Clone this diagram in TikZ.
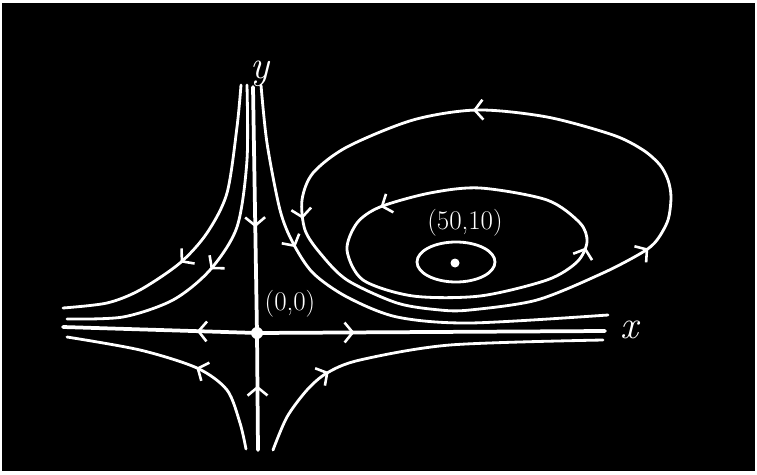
\documentclass[tikz,border=0pt]{standalone}
\usepackage{tikz}
\usetikzlibrary{arrows.meta, decorations.markings}

\begin{document}
\begin{tikzpicture}[x=0.3cm, y=0.3cm,
    flow/.style={white, line width=2.4pt, line cap=round, line join=round},
    axisline/.style={flow, line width=3.2pt},
    tipat/.style={postaction={decorate, decoration={markings,
        mark=at position #1 with {\arrow[white, line width=2.2pt]{Straight Barb[length=7pt, width=17pt]}}}}},
    lbl/.style={white, inner sep=0pt, font=\fontsize{23}{23}\selectfont}]
    % Background
    \fill[white] (-25.7,-14.1) rectangle (50.0,33.3);
    \fill[black] (-25.5,-13.8) rectangle (49.8,33.0);

    % Axes
    \coordinate (O) at (0,0);
    \coordinate (yTop) at (-0.4,24.6);
    \coordinate (yBot) at (0.1,-11.7);
    \coordinate (xLeft) at (-19.4,0.6);
    \coordinate (xRight) at (34.8,0.2);
    \draw[axisline, tipat=0.57] (yTop) -- (O);
    \draw[axisline, tipat=0.55] (yBot) -- (O);
    \draw[axisline, tipat=0.31] (O) -- (xLeft);
    \draw[axisline, tipat=0.28] (O) -- (xRight);
    \node[white, font=\fontsize{34}{34}\selectfont\itshape] (ylabel) at (0.3,25.9) {y};
    \node[white, font=\fontsize{34}{34}\selectfont\itshape] (xlabel) at (37.2,0.3) {x};

    % Saddle at the origin
    \fill[white] (O) circle (0.6);
    \node[lbl] (lblO) at (3.3,2.9) {(0,0)};

    % Trajectories near the saddle
    \draw[flow, tipat=0.60] plot[smooth] coordinates {(-1.6,24.8) (-2.0,20.6) (-3.0,14.0)
        (-5.0,10.0) (-7.7,7.0) (-11.7,4.3) (-15,3.0) (-19.4,2.5)};
    \draw[flow, tipat=0.55] plot[smooth] coordinates {(-1.0,24.8) (-1.0,17.3) (-2.0,10.6)
        (-4.7,6.3) (-8.4,3.3) (-13.4,1.6) (-19.0,1.4)};
    \draw[flow, tipat=0.33] plot[smooth] coordinates {(0.4,24.8) (1.0,19.0) (2.3,12.3)
        (3.6,9.0) (5.6,6.0) (9.0,3.6) (14.0,1.6) (21.3,1.0) (35.1,1.8)};
    \draw[flow, tipat=0.43] plot[smooth] coordinates {(-1.1,-11.6) (-1.7,-9.0) (-3.0,-5.7)
        (-6.0,-3.5) (-11.7,-1.7) (-19.0,-0.4)};
    \draw[flow, tipat=0.26] plot[smooth] coordinates {(1.6,-11.7) (3.0,-8.4) (5.0,-5.7)
        (7.0,-4.0) (10.3,-2.7) (19.3,-1.2) (34.6,-0.7)};

    % Closed orbits round the centre
    \coordinate (C) at (19.8,7.0);
    \draw[flow, tipat=0.10, tipat=0.535, tipat=0.855] plot[smooth cycle] coordinates {
        (15.6,21.3) (9.0,18.6) (5.6,16.0) (4.5,13.3) (4.8,10.3) (6.3,8.0) (9.0,5.3)
        (14.0,3.0) (18.3,2.3) (21.3,2.3) (28.0,3.3) (34.6,6.0) (38.6,8.1) (40.0,9.3)
        (41.1,11.3) (41.4,13.6) (41.1,15.3) (40.3,16.8) (38.6,18.3) (35.6,19.8)
        (29.0,21.6) (22.0,22.3)};
    \draw[flow, tipat=0.09, tipat=0.675] plot[smooth cycle] coordinates {
        (22.3,14.5) (17.3,14.0) (12.3,12.6) (10.0,11.0) (9.0,8.3) (10.6,5.3) (15.6,3.7)
        (22.3,3.7) (29.0,5.3) (32.0,7.1) (33.0,9.1) (32.3,11.0) (29.0,13.3)};
    \draw[flow] (19.9,7.1) ellipse (3.9 and 2.0);
    \fill[white] (C) circle (0.45);
    \node[lbl] (lblC) at (20.8,11.0) {(50,10)};
\end{tikzpicture}
\end{document}
